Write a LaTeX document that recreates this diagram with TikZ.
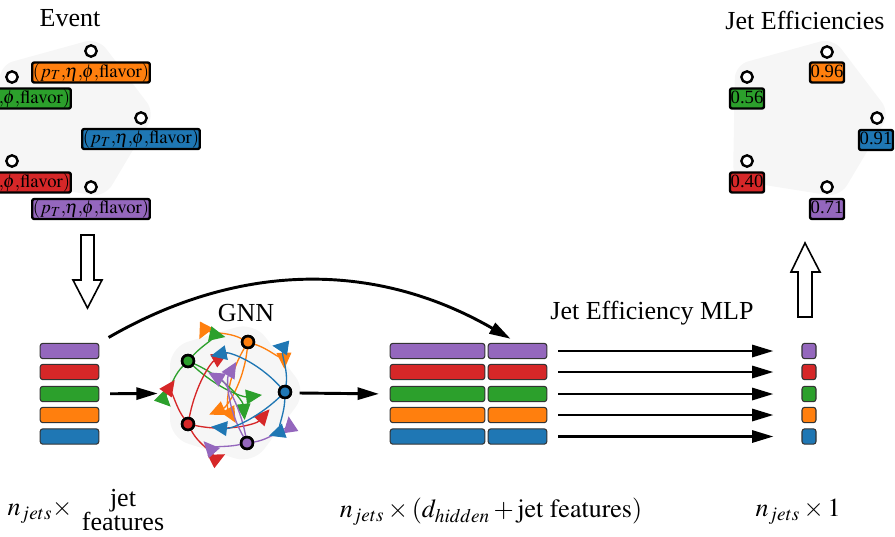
\documentclass[tikz,border=0pt]{standalone}
\usepackage{mathptmx}
\usepackage{fontspec}
\setmainfont{Liberation Serif}
\usetikzlibrary{arrows.meta}
\definecolor{tblue}{HTML}{1F77B4}
\definecolor{torange}{HTML}{FF7F0E}
\definecolor{tgreen}{HTML}{2CA02C}
\definecolor{tred}{HTML}{D62728}
\definecolor{tpurple}{HTML}{9467BD}
\definecolor{panel}{HTML}{F6F6F6}
\newcommand{\feats}{$(p_T{,}\mkern-1mu\eta{,}\mkern-1mu\phi{,}\mathrm{flavor})$}
\begin{document}
\begin{tikzpicture}[x=0.75pt,y=0.75pt,line join=round]
  \tikzstyle{title}=[font=\fontsize{19.5}{22}\selectfont]
  \tikzstyle{jet}=[circle,draw,fill=white,line width=1.8pt,minimum size=8.5pt,inner sep=0pt]
  \tikzstyle{feat}=[draw,line width=1.8pt,rounded corners=1.5pt,inner xsep=0.5pt,inner ysep=0.5pt,
                    text height=10.5pt,text depth=3.5pt,font=\fontsize{14}{16}\selectfont]
  \tikzstyle{bar}=[draw=black!80,line width=0.8pt,rounded corners=2pt,minimum height=11.5pt,inner sep=0pt]
  \tikzstyle{gnode}=[circle,draw,line width=1.8pt,minimum size=9pt,inner sep=0pt]
  \tikzstyle{gedge}=[-{Triangle[length=12pt,width=11pt]},line width=1pt,shorten >=12pt]
  \tikzstyle{outer}=[bend right=45,shorten >=13pt]
  \tikzstyle{flow}=[-{Triangle[length=16pt,width=9pt]},line width=2.2pt]
  \tikzstyle{hollow}=[draw,fill=white,line width=1.2pt,line join=miter]
  \useasboundingbox (0,0) rectangle (895,-536);
  \clip (0,0) rectangle (895,-536);

  % event and output panels
  \fill[panel,rounded corners=10pt] (0,-65) -- (98,-38) -- (155,-113) -- (105,-197) -- (-2,-180) -- cycle;
  \fill[panel,rounded corners=10pt] (735,-65) -- (833,-38) -- (890,-113) -- (840,-197) -- (733,-180) -- cycle;
  \node[title] (event) at (70,-18) {Event};
  \node[title] (effs) at (805,-20) {Jet Efficiencies};

  \node[jet] (E_1) at (91,-51) {};
  \node[jet] (E_2) at (12,-77) {};
  \node[jet] (E_3) at (141,-118) {};
  \node[jet] (E_4) at (12,-161) {};
  \node[jet] (E_5) at (91,-187) {};
  \node[feat,fill=torange] (F_1) at (91,-72.5) {\feats};
  \node[feat,fill=tgreen] (F_2) at (12,-98.5) {\feats};
  \node[feat,fill=tblue] (F_3) at (141,-139) {\feats};
  \node[feat,fill=tred] (F_4) at (12,-182.5) {\feats};
  \node[feat,fill=tpurple] (F_5) at (91,-209) {\feats};

  \node[jet] (J_1) at (827,-52) {};
  \node[jet] (J_2) at (747,-77) {};
  \node[jet] (J_3) at (877,-118) {};
  \node[jet] (J_4) at (747,-161) {};
  \node[jet] (J_5) at (827,-187) {};
  \node[feat,fill=torange] (P_1) at (827,-72.5) {0.96};
  \node[feat,fill=tgreen] (P_2) at (747,-98.5) {0.56};
  \node[feat,fill=tblue] (P_3) at (876,-140) {0.91};
  \node[feat,fill=tred] (P_4) at (747,-182.5) {0.40};
  \node[feat,fill=tpurple] (P_5) at (827,-209) {0.71};

  % hollow arrows
  \draw[hollow] (81,-235) -- (94,-235) -- (94,-280) -- (102,-280) -- (87.5,-308)
                -- (73,-280) -- (81,-280) -- cycle;
  \draw[hollow] (798,-317) -- (812,-317) -- (812,-272) -- (820,-272) -- (805,-243)
                -- (791,-272) -- (798,-272) -- cycle;

  % input jets
  \node[bar,fill=tpurple,minimum width=44pt] (L_1) at (69.5,-351) {};
  \node[bar,fill=tred,minimum width=44pt] (L_2) at (69.5,-372) {};
  \node[bar,fill=tgreen,minimum width=44pt] (L_3) at (69.5,-394) {};
  \node[bar,fill=torange,minimum width=44pt] (L_4) at (69.5,-415) {};
  \node[bar,fill=tblue,minimum width=44pt] (L_5) at (69.5,-436.5) {};

  % GNN
  \fill[panel,rounded corners=14pt] (254,-322) -- (170,-347) -- (170,-438) -- (253,-464) -- (307,-392) -- cycle;
  \node[circle,minimum size=95pt] (gnn) at (236,-393) {};
  \node[title] (gnnlabel) at (246,-313) {GNN};
  \node[gnode,fill=torange] (N_1) at (248,-342) {};
  \node[gnode,fill=tgreen] (N_2) at (188,-361) {};
  \node[gnode,fill=tred] (N_3) at (188,-424) {};
  \node[gnode,fill=tpurple] (N_4) at (247,-443) {};
  \node[gnode,fill=tblue] (N_5) at (285,-392) {};
  \path[gedge,torange] (N_1) edge[outer] (N_2) edge[bend left=30] (N_3)
        edge[bend right=30] (N_4) edge[bend left=35] (N_5);
  \path[gedge,tgreen] (N_2) edge[outer] (N_3) edge[bend left=30] (N_4)
        edge[bend right=25] (N_5) edge[bend left=30] (N_1);
  \path[gedge,tred] (N_3) edge[outer] (N_4) edge[bend right=30] (N_5)
        edge[bend left=25] (N_1) edge[bend left=35] (N_2);
  \path[gedge,tpurple] (N_4) edge[outer] (N_5) edge[bend left=30] (N_1)
        edge[bend right=25] (N_2) edge[bend left=30] (N_3);
  \path[gedge,tblue] (N_5) edge[outer] (N_1) edge[bend right=30] (N_2)
        edge[bend left=25] (N_3) edge[bend left=35] (N_4);
  \foreach \n in {1,...,5} \path (N_\n) node[gnode] {};

  % hidden + jet features
  \node[bar,fill=tpurple,minimum width=71pt] (M_1) at (437.5,-351) {};
  \node[bar,fill=tred,minimum width=71pt] (M_2) at (437.5,-372) {};
  \node[bar,fill=tgreen,minimum width=71pt] (M_3) at (437.5,-394) {};
  \node[bar,fill=torange,minimum width=71pt] (M_4) at (437.5,-415) {};
  \node[bar,fill=tblue,minimum width=71pt] (M_5) at (437.5,-436.5) {};
  \node[bar,fill=tpurple,minimum width=44pt] (H_1) at (517.5,-351) {};
  \node[bar,fill=tred,minimum width=44pt] (H_2) at (517.5,-372) {};
  \node[bar,fill=tgreen,minimum width=44pt] (H_3) at (517.5,-394) {};
  \node[bar,fill=torange,minimum width=44pt] (H_4) at (517.5,-415) {};
  \node[bar,fill=tblue,minimum width=44pt] (H_5) at (517.5,-436.5) {};

  % outputs
  \node[title] (mlp) at (652,-313) {Jet Efficiency MLP};
  \node[bar,fill=tpurple,minimum width=10.5pt] (O_1) at (809,-351) {};
  \node[bar,fill=tred,minimum width=10.5pt] (O_2) at (809,-372) {};
  \node[bar,fill=tgreen,minimum width=10.5pt] (O_3) at (809,-394) {};
  \node[bar,fill=torange,minimum width=10.5pt] (O_4) at (809,-415) {};
  \node[bar,fill=tblue,minimum width=10.5pt] (O_5) at (809,-436.5) {};

  \draw[flow,shorten <=8pt,shorten >=11pt] (L_3) -- (gnn);
  \draw[flow,shorten >=8pt] (gnn.east) -- (M_3.west);
  \draw[flow,shorten <=8pt,shorten >=6pt] (L_1.north east) to[out=30,in=150] (H_1.north);
  \path[flow,shorten <=8pt,shorten >=21pt]
        (H_1) edge (O_1) (H_2) edge (O_2) (H_3) edge (O_3) (H_4) edge (O_4) (H_5) edge (O_5);

  % dimensions
  \node[title] (dimin) at (40,-512) {$n_{jets}\times$};
  \node[title,align=center] (jetf) at (123,-510) {jet\\[-4pt]features};
  \node[title] (dimmid) at (491,-512) {$n_{jets}\times(d_{hidden}+\mathrm{jet\ features})$};
  \node[title] (dimout) at (798,-512) {$n_{jets}\times 1$};
\end{tikzpicture}
\end{document}
